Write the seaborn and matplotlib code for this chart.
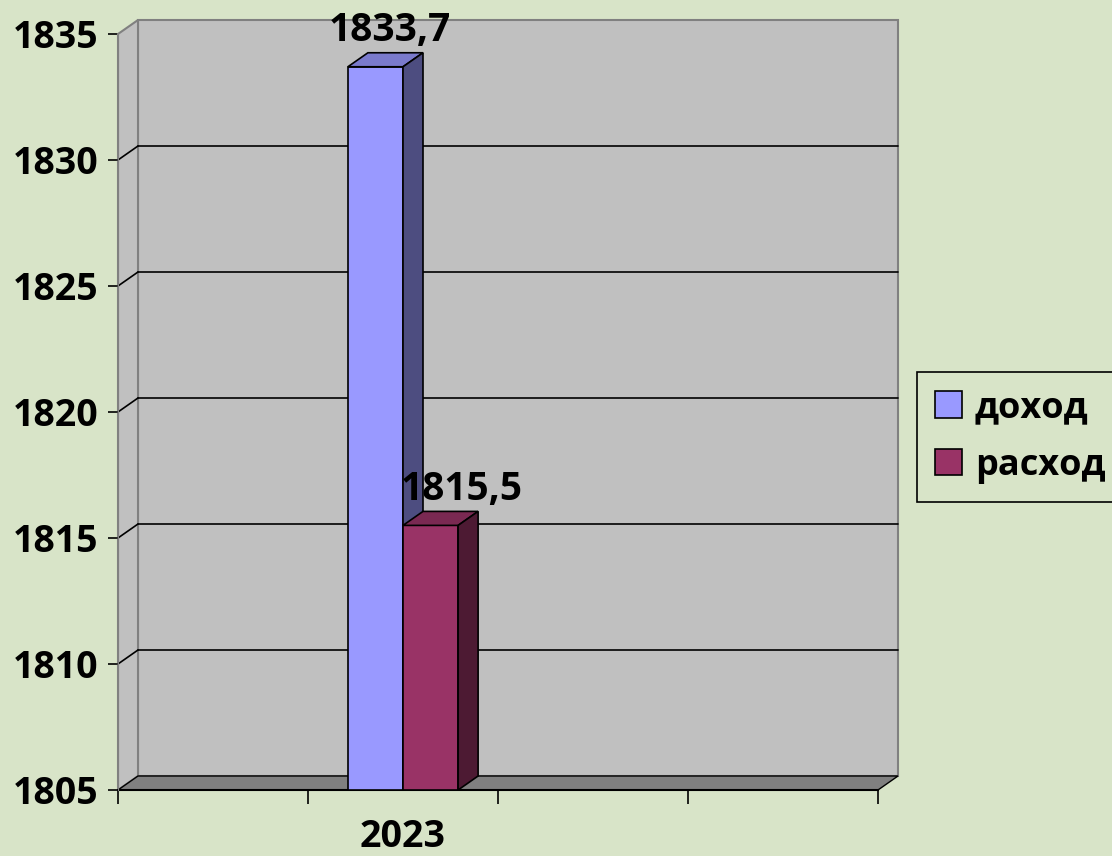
import matplotlib
matplotlib.use("Agg")
import matplotlib.pyplot as plt
from matplotlib.patches import Polygon, Rectangle, Patch
import pandas as pd
import seaborn as sns

# data
years = ["2023", "2023"]
series = ["доход", "расход"]
values = [1833.7, 1815.5]
slots = [" ", "2023", "  ", "   "]   # Excel axis had 4 category slots, only one used
y_ticks = [1805, 1810, 1815, 1820, 1825, 1830, 1835]

bg = "#D8E4C8"
front_cols = ["#9999FF", "#993366"]
top_cols = ["#7A7ACC", "#7A2952"]
side_cols = ["#4D4D80", "#4D1A33"]

df = pd.DataFrame({"year": years, "series": series, "value": values})

sns.set_style("white")
plt.rcParams["font.family"] = ["Open Sans", "DejaVu Sans"]
plt.rcParams["font.weight"] = "bold"
plt.rcParams["text.color"] = "black"
plt.rcParams["xtick.color"] = "black"
plt.rcParams["ytick.color"] = "black"

fig = plt.figure(figsize=(11.12, 8.56), dpi=100)
fig.patch.set_facecolor(bg)
ax = fig.add_axes([118 / 1112, 1 - 790 / 856, 760 / 1112, 756 / 856])
ax.set_facecolor("none")

sns.barplot(data=df, x="year", y="value", hue="series", order=slots,
            hue_order=series, palette=front_cols, width=0.58, saturation=1,
            edgecolor="black", linewidth=1.2, ax=ax, legend=False)
bars = [p for p in ax.patches if p.get_height() > 0]

x0, x1 = -0.5, 3.5
y0, y1 = y_ticks[0], y_ticks[-1]
ax.set_xlim(x0, x1)
ax.set_ylim(y0, y1)

# fake 3D depth offsets in data units (~20 px right, ~14 px up)
DX = 4 / 760 * 20
DY = 30 / 756 * 14

# back wall, side wall, floor
ax.add_patch(Rectangle((x0 + DX, y0 + DY), x1 - x0, y1 - y0, facecolor="#C0C0C0",
                       edgecolor="#808080", lw=1.5, zorder=0.5, clip_on=False))
ax.add_patch(Polygon([(x0, y0), (x0 + DX, y0 + DY), (x0 + DX, y1 + DY), (x0, y1)],
                     closed=True, facecolor="#C0C0C0", edgecolor="#808080", lw=1.5,
                     zorder=0.6, clip_on=False))
for y in y_ticks[1:-1]:
    ax.plot([x0 + DX, x1 + DX], [y + DY, y + DY], color="black", lw=1.2, zorder=0.8, clip_on=False)
    ax.plot([x0, x0 + DX], [y, y + DY], color="black", lw=1.2, zorder=0.8, clip_on=False)
ax.add_patch(Polygon([(x0, y0), (x1, y0), (x1 + DX, y0 + DY), (x0 + DX, y0 + DY)],
                     closed=True, facecolor="#808080", edgecolor="black", lw=1,
                     zorder=0.9, clip_on=False))

# bar tops and sides, value labels
label_shift = [-4, 8]   # Excel places the labels a little off-centre
for i, bar in enumerate(bars):
    bx, bw, h = bar.get_x(), bar.get_width(), bar.get_height()
    z = 3 + i
    bar.set_zorder(z)
    bar.set_y(y0)
    bar.set_height(h - y0)
    ax.add_patch(Polygon([(bx, h), (bx + DX, h + DY), (bx + bw + DX, h + DY), (bx + bw, h)],
                         closed=True, facecolor=top_cols[i], edgecolor="black", lw=1.2,
                         zorder=z, clip_on=False))
    ax.add_patch(Polygon([(bx + bw, y0), (bx + bw + DX, y0 + DY), (bx + bw + DX, h + DY), (bx + bw, h)],
                         closed=True, facecolor=side_cols[i], edgecolor="black", lw=1.2,
                         zorder=z, clip_on=False))
    ax.annotate(f"{h:.1f}".replace(".", ","), (bx + bw / 2 + DX, h + DY),
                xytext=(label_shift[i], 2), textcoords="offset points", ha="center", va="bottom",
                fontsize=28, fontweight="bold", color="black", zorder=10, annotation_clip=False)

# axes styling
for s in ["top", "right"]:
    ax.spines[s].set_visible(False)
ax.spines["left"].set_color("#808080")
ax.spines["bottom"].set_color("black")
ax.spines["bottom"].set_linewidth(1.5)
ax.spines["bottom"].set_zorder(2)

ax.set_yticks(y_ticks)
ax.set_yticklabels([str(t) for t in y_ticks], fontsize=27, fontweight="bold", color="black")
ax.tick_params(axis="y", direction="out", length=7, width=1.2, color="black", pad=7, left=True)

ax.set_xticks([-0.5, 0.5, 1.5, 2.5, 3.5])
ax.set_xticklabels([""] * 5)
ax.set_xticks([0, 1, 2, 3], minor=True)
ax.set_xticklabels(["", "2023", "", ""], minor=True, fontsize=27, fontweight="bold", color="black")
ax.tick_params(axis="x", which="major", direction="out", length=10, width=1.2, color="black", bottom=True)
ax.tick_params(axis="x", which="minor", length=0, pad=20)
ax.set_xlabel("")
ax.set_ylabel("")

handles = [Patch(facecolor=c, edgecolor="black", lw=1.2) for c in front_cols]
leg = fig.legend(handles, series, loc="center left", bbox_to_anchor=(917 / 1112, 1 - 437 / 856),
                 frameon=True, fancybox=False, framealpha=1, handlelength=0.75, handleheight=0.75,
                 handletextpad=0.35, borderpad=0.5, borderaxespad=0, labelspacing=0.6,
                 prop={"size": 26, "weight": "bold"})
leg.get_frame().set_facecolor(bg)
leg.get_frame().set_edgecolor("black")
leg.get_frame().set_linewidth(1.2)

fig.savefig("out.png", dpi=100, facecolor=bg)
